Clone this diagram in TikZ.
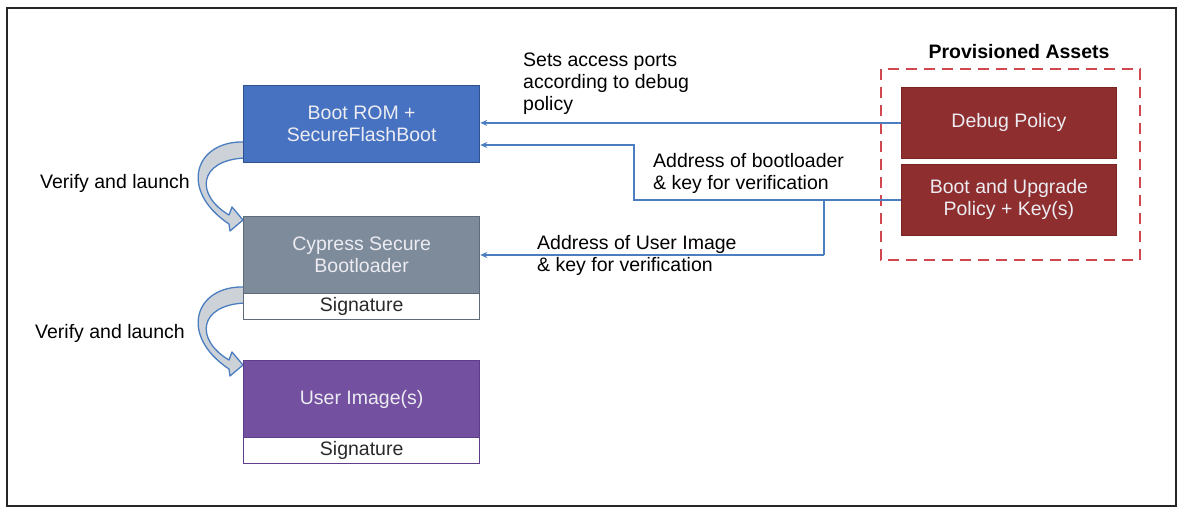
\documentclass[tikz,border=0pt]{standalone}
\usepackage{fontspec}
\setmainfont{Liberation Sans}
\usetikzlibrary{arrows.meta}
\definecolor{bootblue}{HTML}{4672C1}
\definecolor{bootblueb}{HTML}{2F528F}
\definecolor{cypgrey}{HTML}{7D8B9A}
\definecolor{cypgreyb}{HTML}{5F6B78}
\definecolor{userpurp}{HTML}{7451A0}
\definecolor{userpurpb}{HTML}{5E3E88}
\definecolor{assetred}{HTML}{8E2E2E}
\definecolor{assetredb}{HTML}{7A2424}
\definecolor{dashred}{HTML}{D0474F}
\definecolor{connblue}{HTML}{4A7EC0}
\definecolor{boxtext}{HTML}{ECECF2}
\definecolor{sigtext}{HTML}{2A2A2A}
\definecolor{bandfill}{HTML}{CDD2D9}
\begin{document}
\begin{tikzpicture}[x=1pt,y=-1pt,
  every node/.style={font=\fontsize{19.5}{22}\selectfont},
  mainbox/.style={draw, line width=1.3pt, anchor=north west, minimum width=236pt, minimum height=77pt, inner sep=0pt, text=boxtext, align=center},
  sigbox/.style={draw, line width=1.3pt, fill=white, anchor=north west, minimum width=236pt, minimum height=26pt, inner sep=0pt, text=sigtext},
  assetbox/.style={fill=assetred, draw=assetredb, line width=0.8pt, anchor=north west, minimum width=215pt, minimum height=71pt, inner sep=0pt, text=boxtext, align=center},
  conn/.style={draw=connblue, line width=1.2pt, -{Stealth[length=7pt,width=6pt]}},
  plain/.style={draw=connblue, line width=1.2pt},
  lbl/.style={anchor=west, inner sep=0pt, align=left, text=black},
  bandarrow/.style={fill=bandfill, draw=connblue, line width=1.3pt, line join=round}
]
\useasboundingbox (0,0) rectangle (1184,514);
\draw[line width=2pt, draw=black!85] (7,8) rectangle (1176,506);

% curved launch arrows (drawn under the boxes)
\draw[bandarrow] (245,142) .. controls (195,140) and (178,190) .. (229,224)
  -- (230,231) -- (243,220) -- (232,207) -- (229,215)
  .. controls (195,195) and (198,160) .. (245,158) -- cycle;
\begin{scope}[yshift=-145pt]
\draw[bandarrow] (245,142) .. controls (195,140) and (178,190) .. (229,224)
  -- (230,231) -- (243,220) -- (232,207) -- (229,215)
  .. controls (195,195) and (198,160) .. (245,158) -- cycle;
\end{scope}

% left column
\node[mainbox, fill=bootblue, draw=bootblueb] (boot) at (243,85) {Boot ROM +\\SecureFlashBoot};
\node[mainbox, fill=cypgrey, draw=cypgreyb] (cyp) at (243,216) {Cypress Secure\\Bootloader};
\node[sigbox, draw=cypgreyb] (cypsig) at (243,293) {Signature};
\node[mainbox, fill=userpurp, draw=userpurpb] (user) at (243,360) {User Image(s)};
\node[sigbox, draw=userpurpb] (usersig) at (243,437) {Signature};

\node[lbl] (v1) at (40,183) {Verify and launch};
\node[lbl] (v2) at (35,333) {Verify and launch};

% provisioned assets
\node[font=\fontsize{19.5}{22}\selectfont\bfseries] (pa) at (1019,52) {Provisioned Assets};
\draw[dashred, line width=2.6pt, dash pattern=on 11pt off 7pt] (881,69) rectangle (1140,260);
\node[assetbox] (debug) at (901,87) {Debug Policy};
\node[assetbox] (bu) at (901,164) {Boot and Upgrade\\Policy + Key(s)};

% connectors
\draw[conn] (debug.west) -- (debug.west -| boot.east);
\coordinate (j1) at (634,145);
\draw[conn] (bu.west) -| (j1) -- (j1 -| boot.east);
\coordinate (j2) at (824,255);
\draw[plain] (bu.west -| j2) -- (j2);
\draw[conn] (j2) -- (j2 -| cyp.east);

\node[lbl] (t1) at (523,84) {Sets access ports\\according to debug\\policy};
\node[lbl] (t2) at (653,173) {Address of bootloader\\\& key for verification};
\node[lbl] (t3) at (537,255) {Address of User Image\\\& key for verification};
\end{tikzpicture}
\end{document}
